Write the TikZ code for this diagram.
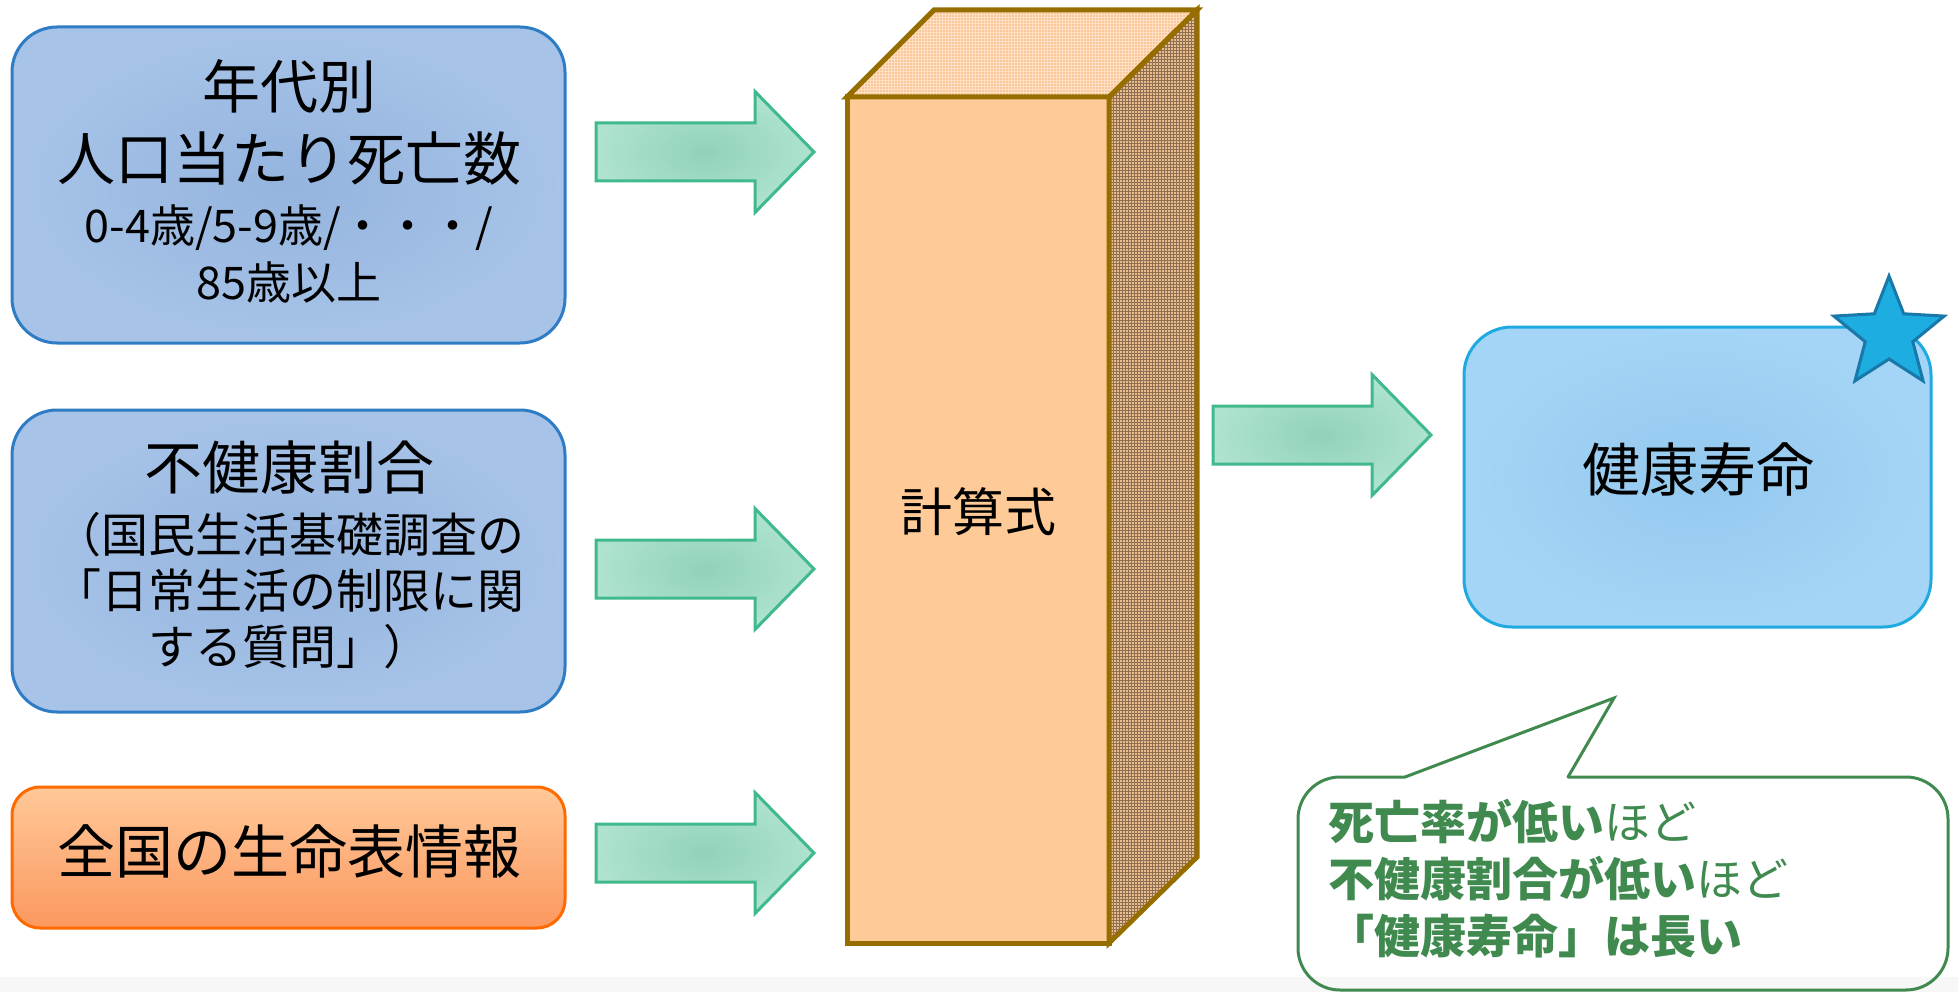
\documentclass[tikz,border=0pt]{standalone}
\usepackage{fontspec}
\setmainfont{Noto Sans CJK JP}
\usetikzlibrary{patterns}
\definecolor{boxfill}{RGB}{167,195,232}
\definecolor{boxfillin}{RGB}{148,180,222}
\definecolor{boxline}{RGB}{46,125,196}
\definecolor{orgtop}{RGB}{255,201,152}
\definecolor{orgmid}{RGB}{253,176,124}
\definecolor{orgbot}{RGB}{252,152,96}
\definecolor{orgline}{RGB}{255,106,0}
\definecolor{arrfill}{RGB}{174,227,207}
\definecolor{arrfillin}{RGB}{146,210,184}
\definecolor{arrline}{RGB}{64,185,140}
\definecolor{prfront}{RGB}{253,202,152}
\definecolor{prline}{RGB}{150,110,0}
\definecolor{prtop}{RGB}{250,199,152}
\definecolor{prtopgrid}{RGB}{255,224,196}
\definecolor{prside}{RGB}{236,188,140}
\definecolor{prsidegrid}{RGB}{140,112,84}
\definecolor{hlfill}{RGB}{164,213,246}
\definecolor{hlfillin}{RGB}{148,200,238}
\definecolor{hlline}{RGB}{30,170,225}
\definecolor{starfill}{RGB}{30,173,225}
\definecolor{starline}{RGB}{24,120,170}
\definecolor{callgreen}{RGB}{64,138,80}
\definecolor{stripgray}{RGB}{247,247,247}
\newcommand\blockarrow[1]{\draw[arrowshape] (#1) ++(0,-29) -- ++(159,0) -- ++(0,-31.5) -- ++(59,60.5) -- ++(-59,60.5) -- ++(0,-31.5) -- ++(-159,0) -- cycle;}
\begin{document}
\begin{tikzpicture}[x=1pt,y=-1pt,
  inbox/.style={draw=boxline, line width=3pt, rounded corners=45pt, inner color=boxfillin, outer color=boxfill, inner sep=0pt},
  lifebox/.style={draw=orgline, line width=3pt, rounded corners=28pt, top color=orgtop, bottom color=orgbot, middle color=orgmid, inner sep=0pt},
  arrowshape/.style={draw=arrline, line width=3pt, inner color=arrfillin, outer color=arrfill, line join=miter},
  bigtxt/.style={font=\fontsize{58}{72}\selectfont, align=center, inner sep=0pt},
  midtxt/.style={font=\fontsize{47}{56}\selectfont, align=center, inner sep=0pt},
  prismline/.style={draw=prline, line width=5pt, line join=miter},
  resultbox/.style={draw=hlline, line width=3pt, rounded corners=48pt, inner color=hlfillin, outer color=hlfill, inner sep=0pt},
  starstyle/.style={fill=starfill, draw=starline, line width=3pt, line join=miter},
  calloutline/.style={draw=callgreen, line width=3pt, line cap=round, line join=miter}
]
\useasboundingbox (0,0) rectangle (1958,992);
\fill[stripgray] (0,977) rectangle (1958,992);

% input boxes
\node[inbox, minimum width=553pt, minimum height=316pt] (mort) at (288.5,185) {};
\node[bigtxt] (mortt) at (289,122) {年代別\\人口当たり死亡数};
\node[font=\fontsize{45}{57}\selectfont, align=center, inner sep=0pt] (morts) at (289,254) {0-4歳/5-9歳/・・・/\\85歳以上};

\node[inbox, minimum width=553pt, minimum height=302pt] (unh) at (288.5,561) {};
\node[bigtxt] (unht) at (289,468) {不健康割合};
\node[midtxt] (unhs) at (289,591) {（国民生活基礎調査の\\「日常生活の制限に関\\する質問」）};

\node[lifebox, minimum width=553pt, minimum height=141pt] (life) at (288.5,857.5) {};
\node[bigtxt] (lifet) at (289,851) {全国の生命表情報};

% prism
\node[prismline, fill=prfront, minimum width=262pt, minimum height=846pt, inner sep=0pt] (calc) at (978,520) {};
\fill[prtop] (847,97) -- (934,10) -- (1197,10) -- (1109,97) -- cycle;
\fill[pattern=grid, pattern color=prtopgrid] (847,97) -- (934,10) -- (1197,10) -- (1109,97) -- cycle;
\fill[prside] (1109,97) -- (1197,10) -- (1197,857) -- (1109,943) -- cycle;
\fill[pattern=grid, pattern color=prsidegrid] (1109,97) -- (1197,10) -- (1197,857) -- (1109,943) -- cycle;
\draw[prismline] (847,97) -- (934,10) -- (1197,10) -- (1109,97) -- cycle;
\draw[prismline] (1109,97) -- (1197,10) -- (1197,857) -- (1109,943) -- cycle;
\node[font=\fontsize{52}{60}\selectfont, inner sep=0pt] (calct) at (978,512) {計算式};

% block arrows
\coordinate (a1) at (596,152);
\coordinate (a2) at (596,569);
\coordinate (a3) at (596,853);
\coordinate (a4) at (1213,435);
\blockarrow{a1}
\blockarrow{a2}
\blockarrow{a3}
\blockarrow{a4}

% result
\node[resultbox, minimum width=467pt, minimum height=300pt] (hl) at (1697.5,477) {};
\node[bigtxt] (hlt) at (1698,470) {健康寿命};
\coordinate (starc) at (1889,334);
\draw[starstyle] ([shift={(-90:58)}]starc) -- ([shift={(-54:25)}]starc)
  -- ([shift={(-18:58)}]starc) -- ([shift={(18:25)}]starc)
  -- ([shift={(54:58)}]starc) -- ([shift={(90:25)}]starc)
  -- ([shift={(126:58)}]starc) -- ([shift={(162:25)}]starc)
  -- ([shift={(198:58)}]starc) -- ([shift={(234:25)}]starc) -- cycle;

% callout
\coordinate (cl) at (1405,777);
\coordinate (ctip) at (1614,698);
\coordinate (cr) at (1568,777);
\draw[calloutline, rounded corners=42pt] (cr) -- (1948,777) -- (1948,990) -- (1298,990) -- (1298,777) -- (cl);
\draw[calloutline] (cl) -- (ctip) -- (cr);
\node[font=\fontsize{46}{57}\selectfont, text=callgreen, align=left, anchor=west, inner sep=0pt] (ct) at (1328,879) {\textbf{死亡率が低い}ほど\\\textbf{不健康割合が低い}ほど\\\textbf{「健康寿命」は長い}};
\end{tikzpicture}
\end{document}
